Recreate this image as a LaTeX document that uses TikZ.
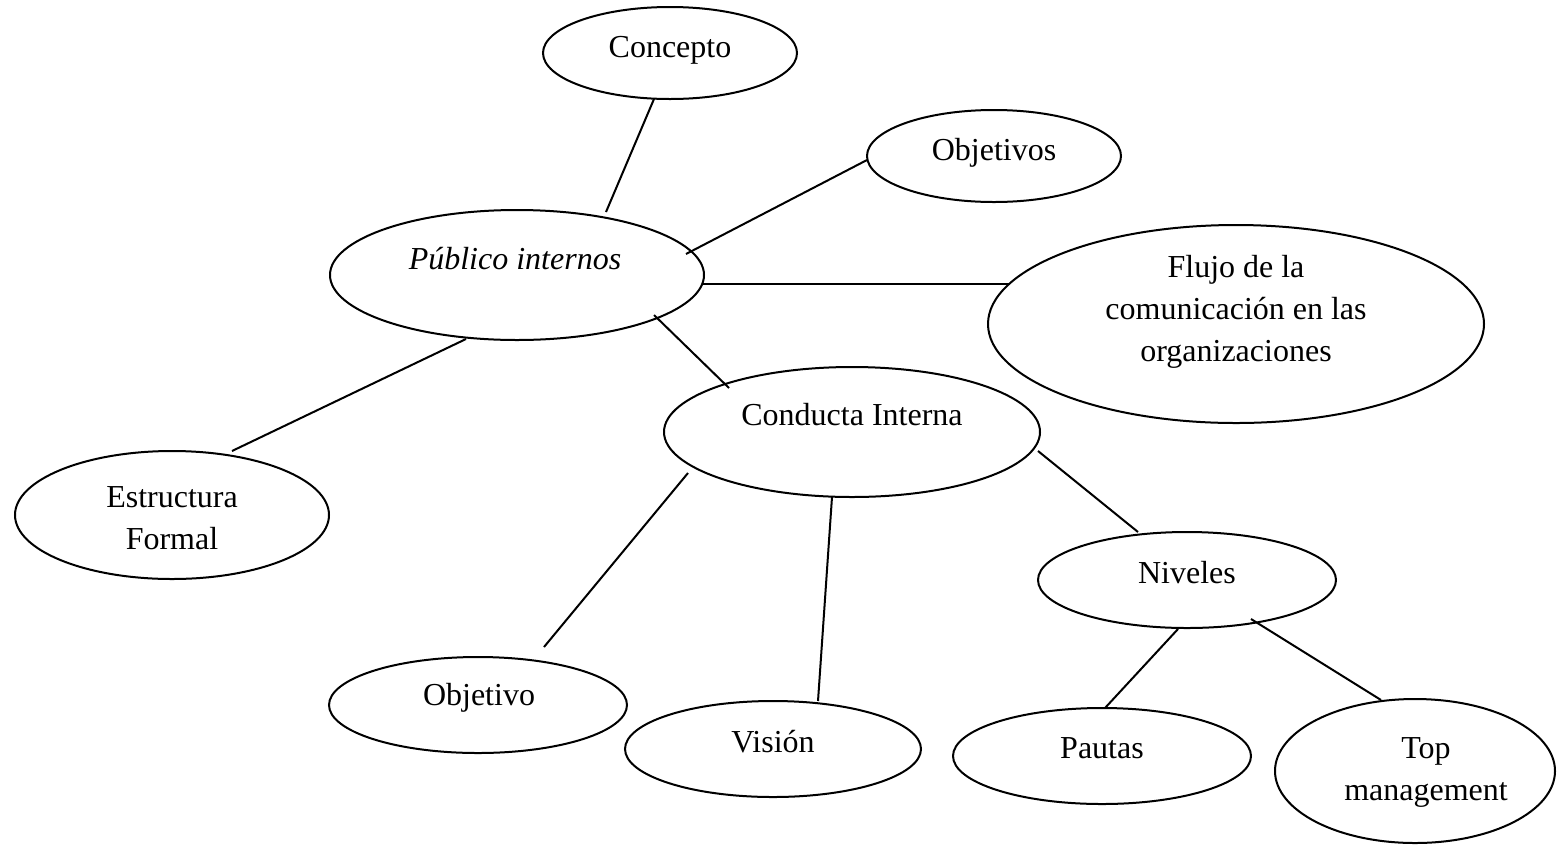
\documentclass[tikz,border=0pt]{standalone}
\usepackage{fontspec}
\setmainfont{Liberation Serif}
\usetikzlibrary{shapes.geometric}
\begin{document}
\begin{tikzpicture}[x=0.5pt,y=-0.5pt,
  ell/.style={draw, ellipse, line width=1pt, inner sep=0pt},
  lbl/.style={font=\fontsize{16}{21}\selectfont, align=center, inner sep=0pt},
  conn/.style={line width=1pt}]
\useasboundingbox (0,0) rectangle (1557,847);

% ellipses
\node[ell, minimum width=127pt, minimum height=46pt] (concepto) at (670,53) {};
\node[ell, minimum width=127pt, minimum height=46pt] (objetivos) at (994,156) {};
\node[ell, minimum width=187pt, minimum height=65pt] (publico) at (517,275) {};
\node[ell, minimum width=248pt, minimum height=99pt] (flujo) at (1236,324) {};
\node[ell, minimum width=188pt, minimum height=65pt] (conducta) at (852,432) {};
\node[ell, minimum width=157pt, minimum height=64pt] (estructura) at (172,515) {};
\node[ell, minimum width=149pt, minimum height=48pt] (niveles) at (1187,580) {};
\node[ell, minimum width=149pt, minimum height=48pt] (objetivo) at (478,705) {};
\node[ell, minimum width=148pt, minimum height=48pt] (vision) at (773,749) {};
\node[ell, minimum width=149pt, minimum height=48pt] (pautas) at (1102,756) {};
\node[ell, minimum width=140pt, minimum height=72pt] (top) at (1415,771) {};

% labels
\node[lbl] (concepto-t) at (670,50) {Concepto};
\node[lbl] (objetivos-t) at (994,153) {Objetivos};
\node[lbl] (publico-t) at (515,259) {\itshape Público internos};
\node[lbl] (flujo-t) at (1236,312) {Flujo de la\\comunicación en las\\organizaciones};
\node[lbl] (conducta-t) at (852,415) {Conducta Interna};
\node[lbl] (estructura-t) at (172,518) {Estructura\\Formal};
\node[lbl] (niveles-t) at (1187,573) {Niveles};
\node[lbl] (objetivo-t) at (479,698) {Objetivo};
\node[lbl] (vision-t) at (773,742) {Visión};
\node[lbl] (pautas-t) at (1102,748) {Pautas};
\node[lbl] (top-t) at (1426,772) {Top\\management};

% connector end points
\coordinate (c1a) at (654,99);   \coordinate (c1b) at (606,212);
\coordinate (c2a) at (867,160);  \coordinate (c2b) at (686,254);
\coordinate (c3a) at (703,284);  \coordinate (c3b) at (1010,284);
\coordinate (c4a) at (654,315);  \coordinate (c4b) at (729,388);
\coordinate (c5a) at (466,339);  \coordinate (c5b) at (232,451);
\coordinate (c6a) at (688,473);  \coordinate (c6b) at (544,647);
\coordinate (c7a) at (832,497);  \coordinate (c7b) at (818,701);
\coordinate (c8a) at (1038,451); \coordinate (c8b) at (1138,532);
\coordinate (c9a) at (1178,629); \coordinate (c9b) at (1105,708);
\coordinate (c10a) at (1251,619); \coordinate (c10b) at (1381,700);

% connectors
\draw[conn] (c1a) -- (c1b);
\draw[conn] (c2a) -- (c2b);
\draw[conn] (c3a) -- (c3b);
\draw[conn] (c4a) -- (c4b);
\draw[conn] (c5a) -- (c5b);
\draw[conn] (c6a) -- (c6b);
\draw[conn] (c7a) -- (c7b);
\draw[conn] (c8a) -- (c8b);
\draw[conn] (c9a) -- (c9b);
\draw[conn] (c10a) -- (c10b);
\end{tikzpicture}
\end{document}
